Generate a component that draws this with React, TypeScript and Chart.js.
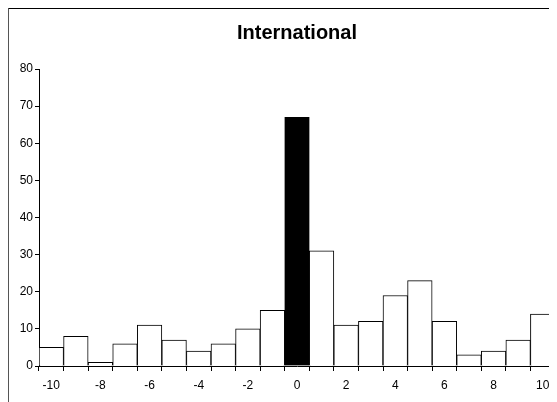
import React, { useEffect, useRef } from "react";
import { Chart, registerables } from "chart.js";

Chart.register(...registerables);

const categories = ["-10","-9","-8","-7","-6","-5","-4","-3","-2","-1","0","1","2","3","4","5","6","7","8","9","10"];
const values = [5, 8, 1, 6, 11, 7, 4, 6, 10, 15, 67, 31, 11, 12, 19, 23, 12, 3, 4, 7, 14];
const highlightCategory = "0";
const titleText = "International";
const yMin = 0;
const yMax = 80;
const yStep = 10;

export default function App() {
  const ref = useRef<HTMLCanvasElement | null>(null);
  useEffect(() => {
    if (!ref.current) return;
    const font = { family: "'Liberation Sans', Arial, sans-serif", size: 12 };
    const chart = new Chart(ref.current, {
      type: "bar",
      data: {
        labels: categories,
        datasets: [
          {
            data: values,
            backgroundColor: categories.map((c) => (c === highlightCategory ? "#000000" : "#ffffff")),
            borderColor: "#000000",
            borderWidth: 1,
            categoryPercentage: 1,
            barPercentage: 1,
          },
        ],
      },
      options: {
        animation: false,
        responsive: false,
        devicePixelRatio: 1,
        layout: { padding: { left: 0, right: 2, top: 0, bottom: 0 } },
        plugins: {
          legend: { display: false },
          tooltip: { enabled: false },
          title: {
            display: true,
            text: titleText,
            fullSize: false,
            color: "#000",
            font: { family: "'Liberation Sans', Arial, sans-serif", size: 20, weight: "bold" },
            padding: { top: 12, bottom: 24 },
          },
        },
        scales: {
          x: {
            offset: true,
            grid: { offset: true, drawOnChartArea: false, tickLength: 5, color: "#000" },
            border: { display: true, color: "#000", width: 1 },
            ticks: {
              color: "#000",
              font,
              maxRotation: 0,
              autoSkip: false,
              padding: 7,
              callback: (_v: any, i: number) => (Number(categories[i]) % 2 === 0 ? categories[i] : ""),
            },
            afterFit: (s: any) => {
              s.height = 36;
              s.paddingLeft = 0;
              s.paddingRight = 0;
            },
          },
          y: {
            min: yMin,
            max: yMax,
            grid: { drawOnChartArea: false, tickLength: 4, color: "#000" },
            border: { display: true, color: "#000", width: 1 },
            ticks: { stepSize: yStep, color: "#000", font, padding: 2 },
            afterFit: (s: any) => {
              s.width = 30;
              s.paddingTop = 0;
              s.paddingBottom = 0;
            },
          },
        },
      },
    });
    return () => chart.destroy();
  }, []);
  return (
    <div
      style={{
        width: 548,
        height: 393,
        borderTop: "2px solid #000",
        borderLeft: "1px solid #555",
        position: "relative",
        marginTop: -1,
      }}
    >
      <canvas ref={ref} width={548} height={393} style={{ display: "block" }} />
    </div>
  );
}
